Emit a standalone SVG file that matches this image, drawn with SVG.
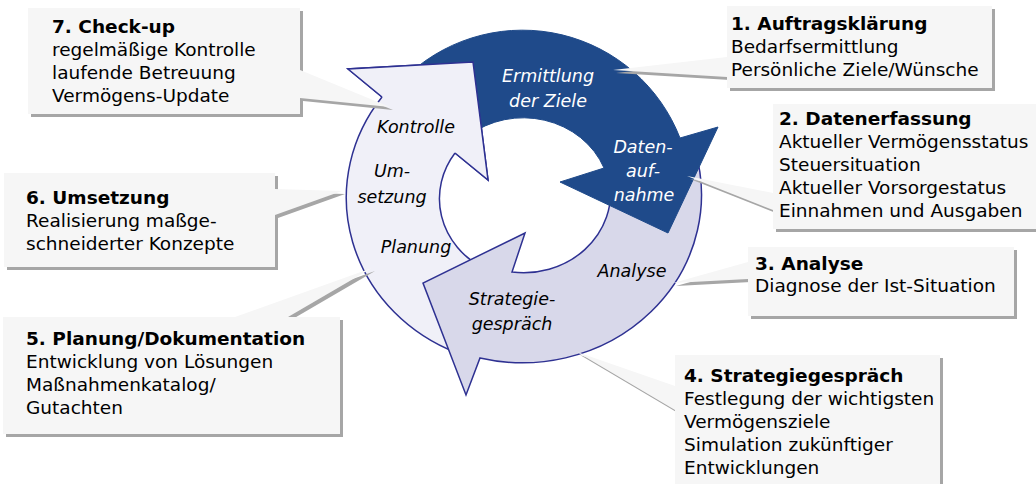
<svg xmlns="http://www.w3.org/2000/svg" width="1036" height="484" viewBox="0 0 1036 484">
<defs>
<style>
.box{fill:#f6f6f6}
.shd{fill:#a6a6a6}
.t{font-family:"DejaVu Sans",Verdana,sans-serif;font-size:18.5px;fill:#000}
.b{font-weight:bold}
.lbl{font-family:"DejaVu Sans",sans-serif;font-size:17.5px;font-style:italic;text-anchor:middle}
.w{fill:#fff}
.k{fill:#000}
.arr{stroke:#2e3192;stroke-width:1.5;stroke-linejoin:miter}
</style>
</defs>
<rect width="1036" height="484" fill="#fff"/>
<g id="connectors">
<path class="arr" fill="#f0f0f8" d="M457,353 A179,168 0 0 1 382,97 L348,69 L473,62 L488,180 L455,153 A87,80 0 0 0 483,268 Z"/>
<path class="arr" fill="#d8d8ea" d="M695,150 A179,168 0 0 1 480,358 L466,395 L423,283 L525,233 L512,272 A87,80 0 0 0 610,183 Z"/>
<path fill="#1f4a8a" stroke="#1f4a8a" d="M410,73 A169,169 0 0 1 680,138 L718,127 L668,233 L560,182 L604,168 A87,80 0 0 0 468,136 Z"/>
<path fill="#f0f0f8" d="M382,97 L348,69 L473,62 L488,180 L455,153 Z"/>
<path fill="none" class="arr" d="M382,97 L348,69 L473,62 L488,180 L455,153"/>
</g>
<g id="cycle-labels">
<text class="lbl w" x="548" y="82">Ermittlung</text>
<text class="lbl w" x="548" y="107">der Ziele</text>
<text class="lbl w" x="643" y="153">Daten-</text>
<text class="lbl w" x="643" y="177">auf-</text>
<text class="lbl w" x="644" y="201">nahme</text>
<text class="lbl k" x="632" y="277">Analyse</text>
<text class="lbl k" x="512" y="305">Strategie-</text>
<text class="lbl k" x="512" y="330">gespräch</text>
<text class="lbl k" x="416" y="253">Planung</text>
<text class="lbl k" x="392" y="177">Um-</text>
<text class="lbl k" x="392" y="203">setzung</text>
<text class="lbl k" x="416" y="133">Kontrolle</text>
</g>
<g id="callout-1">
<path class="shd" transform="translate(3,3)" d="M727,6 H992 V88 H727 V77 L613,70 L727,57 Z"/>
<path class="box" d="M727,6 H992 V88 H727 V77 L613,70 L727,57 Z"/>
<text class="t b" x="731" y="30">1. Auftragsklärung</text>
<text class="t" x="731" y="53">Bedarfsermittlung</text>
<text class="t" x="731" y="76">Persönliche Ziele/Wünsche</text>
</g>
<g id="callout-2">
<path class="shd" transform="translate(3,3)" d="M773,104 H1045 V229 H773 V210 L687,176 L773,193 Z"/>
<path class="box" d="M773,104 H1045 V229 H773 V210 L687,176 L773,193 Z"/>
<text class="t b" x="779" y="125">2. Datenerfassung</text>
<text class="t" x="779" y="148">Aktueller Vermögensstatus</text>
<text class="t" x="779" y="171">Steuersituation</text>
<text class="t" x="779" y="194">Aktueller Vorsorgestatus</text>
<text class="t" x="779" y="217">Einnahmen und Ausgaben</text>
</g>
<g id="callout-3">
<path class="shd" transform="translate(3,3)" d="M748,247 H1014 V316 H748 V279 L673,283 L748,262 Z"/>
<path class="box" d="M748,247 H1014 V316 H748 V279 L673,283 L748,262 Z"/>
<text class="t b" x="755" y="270">3. Analyse</text>
<text class="t" x="755" y="292">Diagnose der Ist-Situation</text>
</g>
<g id="callout-4">
<path class="shd" transform="translate(3,3)" d="M675,355 H940 V495 H675 V410 L577,352 L675,386 Z"/>
<path class="box" d="M675,355 H940 V495 H675 V410 L577,352 L675,386 Z"/>
<text class="t b" x="684" y="382">4. Strategiegespräch</text>
<text class="t" x="684" y="405">Festlegung der wichtigsten</text>
<text class="t" x="684" y="428">Vermögensziele</text>
<text class="t" x="684" y="451">Simulation zukünftiger</text>
<text class="t" x="684" y="474">Entwicklungen</text>
</g>
<g id="callout-5">
<path class="shd" transform="translate(3,3)" d="M3,317 H235 L372,268 L288,317 H340 V434 H3 Z"/>
<path class="box" d="M3,317 H235 L372,268 L288,317 H340 V434 H3 Z"/>
<text class="t b" x="26" y="345">5. Planung/Dokumentation</text>
<text class="t" x="26" y="368">Entwicklung von Lösungen</text>
<text class="t" x="26" y="391">Maßnahmenkatalog/</text>
<text class="t" x="26" y="414">Gutachten</text>
</g>
<g id="callout-6">
<path class="shd" transform="translate(3,3)" d="M4,173 H275 V189 L342,191 L275,215 V267 H4 Z"/>
<path class="box" d="M4,173 H275 V189 L342,191 L275,215 V267 H4 Z"/>
<text class="t b" x="26" y="204">6. Umsetzung</text>
<text class="t" x="26" y="227">Realisierung maßge-</text>
<text class="t" x="26" y="250">schneiderter Konzepte</text>
</g>
<g id="callout-7">
<path class="shd" transform="translate(3,3)" d="M28,8 H300 V70 L390,107 L300,98 V114 H28 Z"/>
<path class="box" d="M28,8 H300 V70 L390,107 L300,98 V114 H28 Z"/>
<text class="t b" x="52" y="33">7. Check-up</text>
<text class="t" x="52" y="56">regelmäßige Kontrolle</text>
<text class="t" x="52" y="79">laufende Betreuung</text>
<text class="t" x="52" y="102">Vermögens-Update</text>
</g>
</svg>
